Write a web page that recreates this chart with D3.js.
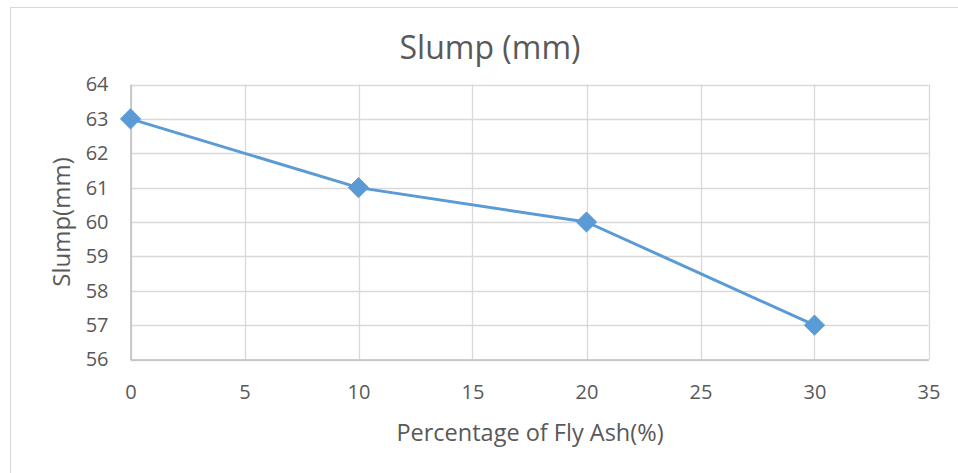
<!DOCTYPE html>
<html><head><meta charset="utf-8">
<script src="https://cdn.jsdelivr.net/npm/d3@7"></script>
<style>body{margin:0;background:#fff;} svg{display:block;}</style>
</head><body>
<script>
const xValues = [0, 10, 20, 30];
const slumpValues = [63, 61, 60, 57];
const xTicks = [0, 5, 10, 15, 20, 25, 30, 35];
const yTicks = [56, 57, 58, 59, 60, 61, 62, 63, 64];
const title = "Slump (mm)";
const xTitle = "Percentage of Fly Ash(%)";
const yTitle = "Slump(mm)";

const W = 958, H = 473;
const font = "'Open Sans', sans-serif";
const svg = d3.select("body").append("svg").attr("width", W).attr("height", H);
svg.append("rect").attr("x", 10.5).attr("y", 7.5).attr("width", 960).attr("height", 480)
  .attr("fill", "#fff").attr("stroke", "#d9d9d9").attr("stroke-width", 1);

const L = 130.5, R = 928.5, T = 84.5, B = 359.5;
const x = d3.scaleLinear().domain([0, 35]).range([L, R]);
const y = d3.scaleLinear().domain([56, 64]).range([B, T]);

const g = svg.append("g");
g.selectAll(".hg").data(yTicks).join("line")
  .attr("x1", L).attr("x2", R).attr("y1", d => Math.round(y(d)) + 0.5).attr("y2", d => Math.round(y(d)) + 0.5)
  .attr("stroke", "#d9d9d9").attr("stroke-width", 1.3);
g.selectAll(".vg").data(xTicks).join("line")
  .attr("y1", T).attr("y2", B).attr("x1", d => Math.round(x(d)) + 0.5).attr("x2", d => Math.round(x(d)) + 0.5)
  .attr("stroke", "#d9d9d9").attr("stroke-width", 1.3);

const xAxis = d3.axisBottom(x).tickValues(xTicks).tickSize(0).tickPadding(25);
const gx = svg.append("g").attr("transform", `translate(0,${B})`).call(xAxis);
gx.select(".domain").attr("stroke", "#bfbfbf").attr("stroke-width", 1.5);
gx.selectAll("text").attr("font-family", font).attr("font-size", 20).attr("fill", "#595959");
const yAxis = d3.axisLeft(y).tickValues(yTicks).tickSize(0).tickPadding(22);
const gy = svg.append("g").attr("transform", `translate(${L},0)`).call(yAxis);
gy.select(".domain").attr("stroke", "#bfbfbf").attr("stroke-width", 1.5);
gy.selectAll("text").attr("font-family", font).attr("font-size", 20).attr("fill", "#595959");

const data = xValues.map((v, i) => ({x: v, y: slumpValues[i]}));
svg.append("path").datum(data)
  .attr("d", d3.line().x(d => x(d.x)).y(d => y(d.y)))
  .attr("fill", "none").attr("stroke", "#5b9bd5").attr("stroke-width", 3)
  .attr("stroke-linejoin", "round");
svg.selectAll(".mk").data(data).join("path")
  .attr("transform", d => `translate(${x(d.x)},${y(d.y)})`)
  .attr("d", d3.symbol(d3.symbolDiamond2, 260)())
  .attr("fill", "#5b9bd5").attr("stroke", "#5b9bd5").attr("stroke-width", 1);

svg.append("text").attr("x", 490).attr("y", 59).attr("text-anchor", "middle")
  .attr("font-family", font).attr("font-size", 32).attr("fill", "#595959").text(title);
svg.append("text").attr("x", 530).attr("y", 441).attr("text-anchor", "middle")
  .attr("font-family", font).attr("font-size", 23.5).attr("fill", "#595959").text(xTitle);
svg.append("text").attr("transform", "translate(70,222) rotate(-90)").attr("text-anchor", "middle")
  .attr("font-family", font).attr("font-size", 24).attr("fill", "#595959").text(yTitle);
</script>
</body></html>
